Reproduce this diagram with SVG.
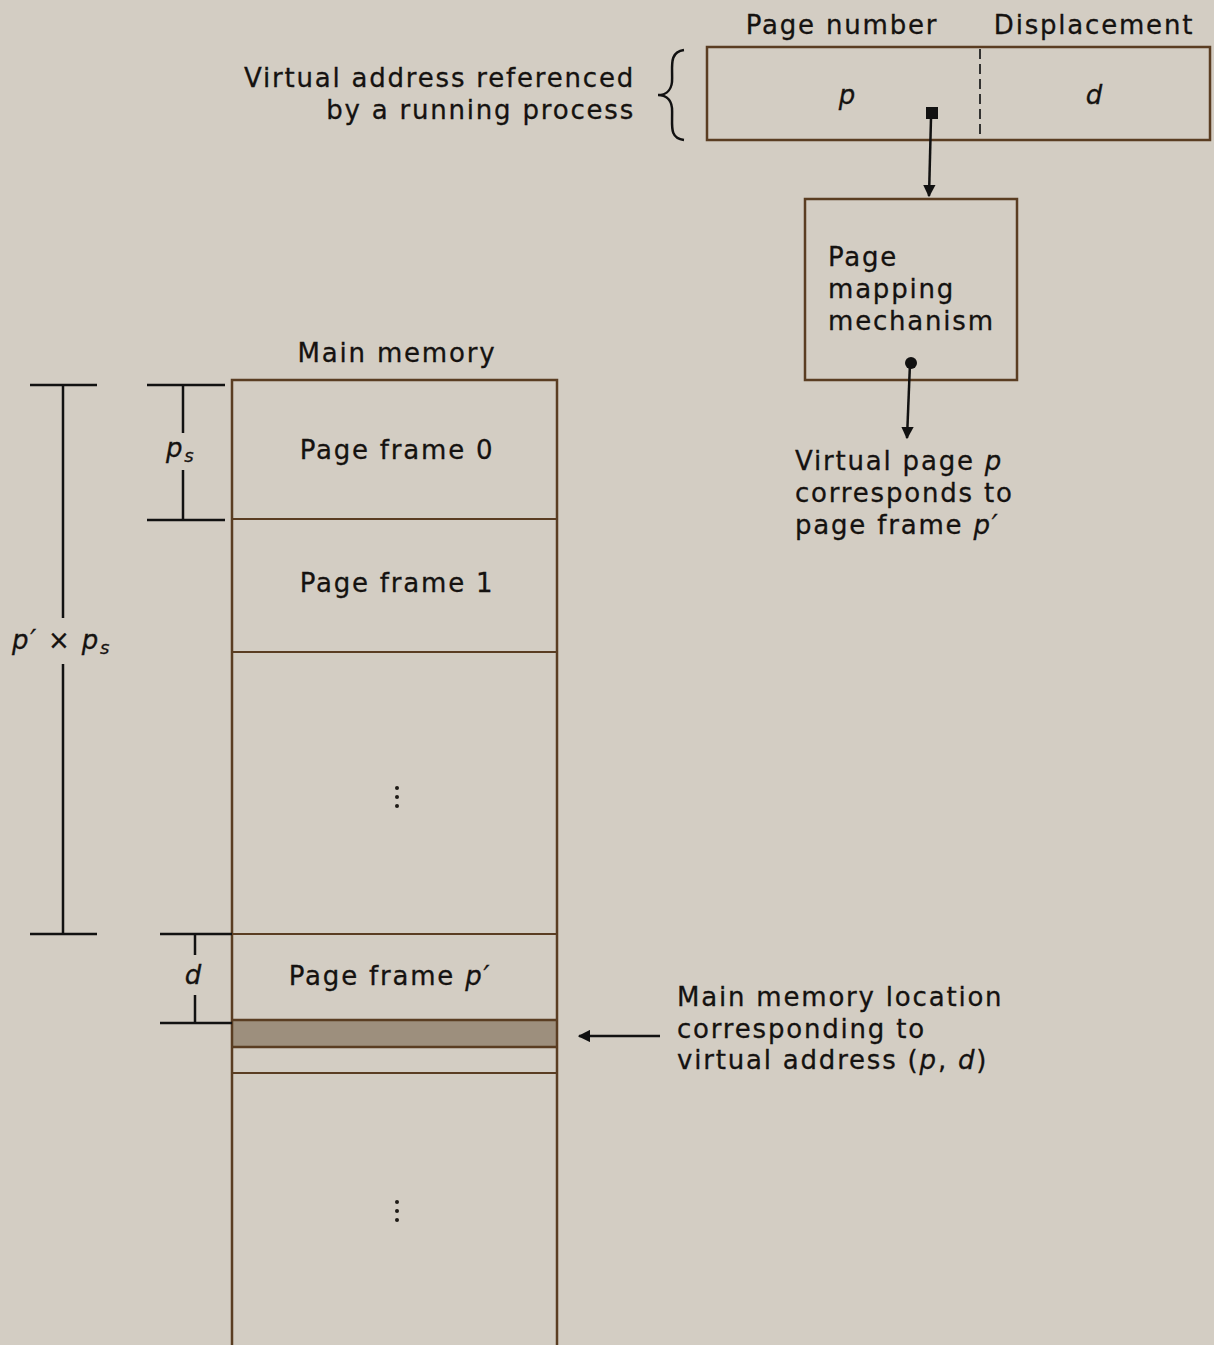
<svg xmlns="http://www.w3.org/2000/svg" width="1214" height="1345" viewBox="0 0 1214 1345">
<defs>
<style>
.t{font-family:"DejaVu Sans","Liberation Sans",sans-serif;font-size:26px;fill:#151210;letter-spacing:1.8px;stroke:#151210;stroke-width:0.3}
.m{text-anchor:middle}
.e{text-anchor:end}
.i{font-style:italic}
.box{fill:none;stroke:#5a3d22;stroke-width:2.5}
.ln{stroke:#5a3d22;stroke-width:2}
.k{stroke:#111;stroke-width:2.5;fill:none}
</style>
<marker id="ah" viewBox="0 0 10 10" refX="9" refY="5" markerWidth="5" markerHeight="5" orient="auto-start-reverse">
<path d="M0,0 L10,5 L0,10 z" fill="#111"/>
</marker>
</defs>
<rect width="1214" height="1345" fill="#d3cdc3"/>

<g id="address">
<text class="t m" x="842" y="34">Page number</text>
<text class="t m" x="1094" y="34">Displacement</text>
<rect class="box" x="707" y="47" width="503" height="93" fill="#d6d0c6"/>
<line x1="980" y1="49" x2="980" y2="138" stroke="#222" stroke-width="1.8" stroke-dasharray="10,5"/>
<text class="t i m" x="848" y="104">p</text>
<text class="t i m" x="1095" y="104">d</text>
<text class="t e" x="635" y="87">Virtual address referenced</text>
<text class="t e" x="635" y="119">by a running process</text>
<path class="k" stroke-width="2" d="M684,50 C668,52 673,68 672,82 C671,92 664,95 658,95 C664,95 671,98 672,108 C673,124 668,138 684,140"/>
</g>

<g id="mapping">
<rect class="box" x="805" y="199" width="212" height="181"/>
<text class="t" x="828" y="266">Page</text>
<text class="t" x="828" y="298">mapping</text>
<text class="t" x="828" y="330">mechanism</text>
</g>

<g id="result">
<text class="t" x="795" y="470">Virtual page <tspan class="i">p</tspan></text>
<text class="t" x="795" y="502">corresponds to</text>
<text class="t" x="795" y="534">page frame <tspan class="i">p′</tspan></text>
</g>

<g id="memory">
<text class="t m" x="397" y="362">Main memory</text>
<rect x="232" y="1020" width="325" height="27" fill="#9d8f7d"/>
<rect class="box" x="232" y="380" width="325" height="975"/>
<line class="ln" x1="232" y1="519" x2="557" y2="519"/>
<line class="ln" x1="232" y1="652" x2="557" y2="652"/>
<line class="ln" x1="232" y1="934" x2="557" y2="934"/>
<line class="box" x1="232" y1="1020" x2="557" y2="1020"/>
<line class="box" x1="232" y1="1047" x2="557" y2="1047"/>
<line class="ln" x1="232" y1="1073" x2="557" y2="1073"/>
<text class="t m" x="397" y="459">Page frame 0</text>
<text class="t m" x="397" y="592">Page frame 1</text>
<text class="t m" x="390" y="985">Page frame <tspan class="i">p′</tspan></text>
<g fill="#1e1a16">
<circle cx="397" cy="788" r="2"/><circle cx="397" cy="797" r="2"/><circle cx="397" cy="806" r="2"/>
<circle cx="397" cy="1202" r="2"/><circle cx="397" cy="1211" r="2"/><circle cx="397" cy="1220" r="2"/>
</g>
</g>

<g id="location">
<text class="t" x="677" y="1006">Main memory location</text>
<text class="t" x="677" y="1038">corresponding to</text>
<text class="t" x="677" y="1069">virtual address (<tspan class="i">p</tspan>, <tspan class="i">d</tspan>)</text>
</g>

<g id="dimensions">
<line class="k" x1="30" y1="385" x2="97" y2="385"/>
<line class="k" x1="30" y1="934" x2="97" y2="934"/>
<line class="k" x1="63" y1="385" x2="63" y2="618"/>
<line class="k" x1="63" y1="664" x2="63" y2="934"/>
<text class="t i" x="12" y="649">p′ <tspan font-style="normal">×</tspan> p<tspan font-size="18" dy="5">s</tspan></text>
<line class="k" x1="147" y1="385" x2="225" y2="385"/>
<line class="k" x1="147" y1="520" x2="225" y2="520"/>
<line class="k" x1="183" y1="385" x2="183" y2="433"/>
<line class="k" x1="183" y1="470" x2="183" y2="520"/>
<text class="t i" x="166" y="457">p<tspan font-size="18" dy="5">s</tspan></text>
<line class="k" x1="160" y1="934" x2="232" y2="934"/>
<line class="k" x1="160" y1="1023" x2="232" y2="1023"/>
<line class="k" x1="195" y1="934" x2="195" y2="955"/>
<line class="k" x1="195" y1="995" x2="195" y2="1023"/>
<text class="t i m" x="194" y="984">d</text>
</g>

<g id="connectors">
<rect x="926" y="107" width="12" height="12" fill="#111"/>
<line class="k" x1="931" y1="118" x2="929" y2="196" marker-end="url(#ah)"/>
<circle cx="911" cy="363" r="6" fill="#111"/>
<line class="k" x1="910" y1="363" x2="907" y2="438" marker-end="url(#ah)"/>
<line class="k" x1="660" y1="1036" x2="579" y2="1036" marker-end="url(#ah)"/>
</g>
</svg>
